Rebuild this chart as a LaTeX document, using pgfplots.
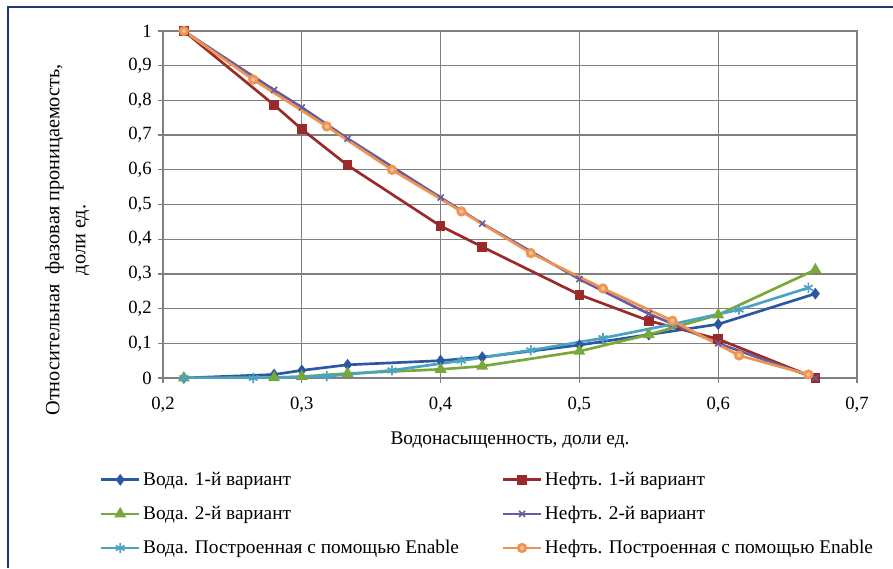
\documentclass[border=0pt]{standalone}
\usepackage{pgfplots}
\pgfplotsset{compat=1.18}
\usepackage{fontspec}
\setmainfont{Liberation Serif}
\definecolor{cB}{HTML}{2B58A0}
\definecolor{cR}{HTML}{9A2A2A}
\definecolor{cG}{HTML}{78A83A}
\definecolor{cP}{HTML}{6A5A9E}
\definecolor{cA}{HTML}{4AA3C2}
\definecolor{cO}{HTML}{EE9450}
\definecolor{frame}{HTML}{1F3A70}
\begin{document}
\begin{tikzpicture}
\useasboundingbox (0,0) rectangle (669.75pt,426pt);
\fill[white] (0,0) rectangle (669.75pt,426pt);
\draw[frame, line width=1.5pt] (6pt,0) -- (6pt,420.75pt) -- (669.75pt,420.75pt);
\begin{axis}[
  at={(122.25pt,142.5pt)}, anchor=south west,
  scale only axis, width=520.5pt, height=260.25pt,
  xmin=0.2, xmax=0.7, ymin=0, ymax=1,
  xtick={0.2,0.3,0.4,0.5,0.6,0.7},
  ytick={0,0.1,0.2,0.3,0.4,0.5,0.6,0.7,0.8,0.9,1},
  grid=major,
  grid style={color=black!50, line width=1pt},
  axis line style={color=black!50, line width=1pt},
  tick style={color=black!50, line width=1pt},
  tick align=outside, major tick length=4pt,
  xtick pos=bottom, ytick pos=left,
  /pgf/number format/.cd, use comma, assume math mode=true, /pgfplots/.cd,
  ticklabel style={font=\fontsize{14}{16}\selectfont},
  xticklabel style={yshift=-7pt},
  yticklabel style={xshift=-1pt},
  xlabel={Водонасыщенность, доли ед.},
  xlabel style={at={(0.5,-0.179)}, anchor=center, font=\fontsize{14.5}{16}\selectfont},
  ylabel={Относительная\ \ фазовая проницаемость,\\ доли ед.},
  ylabel style={at={(-0.138,0.398)}, anchor=center, align=center, font=\fontsize{15.2}{19.5}\selectfont},
  legend columns=2,
  legend cell align=left,
  legend style={at={(-0.097,-0.255)}, anchor=north west, draw=none, fill=none,
    font=\fontsize{14.5}{16}\selectfont, row sep=10pt,
    /tikz/every even column/.append style={column sep=30pt}},
  legend image code/.code={\draw[mark repeat=2,mark phase=2] plot coordinates {(0cm,0cm) (0.5cm,0cm) (1cm,0cm)};},
  every axis plot/.append style={line width=2pt},
]
\addplot[color=cB, mark=diamond*, mark size=2.8pt] coordinates {
(0.215,0) (0.28,0.01) (0.30,0.022) (0.333,0.038) (0.40,0.05) (0.43,0.06) (0.50,0.095) (0.55,0.125) (0.60,0.155) (0.67,0.243)};
\addlegendentry{Вода. 1-й вариант}
\addplot[color=cR, mark=square*, mark size=2.6pt] coordinates {
(0.215,1) (0.28,0.787) (0.30,0.717) (0.333,0.613) (0.40,0.438) (0.43,0.378) (0.50,0.24) (0.55,0.165) (0.60,0.112) (0.67,0.0)};
\addlegendentry{Нефть. 1-й вариант}
\addplot[color=cG, mark=triangle*, mark size=3.2pt] coordinates {
(0.215,0) (0.28,0.001) (0.30,0.004) (0.333,0.013) (0.40,0.025) (0.43,0.034) (0.50,0.077) (0.55,0.125) (0.60,0.182) (0.67,0.312)};
\addlegendentry{Вода. 2-й вариант}
\addplot[color=cP, mark=x, mark size=3.2pt, mark options={line width=1.2pt}] coordinates {
(0.215,1) (0.28,0.83) (0.30,0.78) (0.333,0.69) (0.40,0.52) (0.43,0.445) (0.50,0.285) (0.55,0.185) (0.60,0.10) (0.67,0.0)};
\addlegendentry{Нефть. 2-й вариант}
\addplot[color=cA, mark=asterisk, mark size=3.8pt, mark options={line width=1.2pt}] coordinates {
(0.215,0) (0.265,0.0) (0.318,0.005) (0.365,0.022) (0.415,0.05) (0.465,0.08) (0.517,0.115) (0.567,0.155) (0.615,0.197) (0.665,0.26)};
\addlegendentry{Вода. Построенная с помощью Enable}
\addplot[color=cO, mark=*, mark size=2.8pt, mark options={fill=cO!60}] coordinates {
(0.215,1) (0.265,0.86) (0.318,0.725) (0.365,0.60) (0.415,0.48) (0.465,0.36) (0.517,0.258) (0.567,0.165) (0.615,0.065) (0.665,0.01)};
\addlegendentry{Нефть. Построенная с помощью Enable}
\end{axis}
\end{tikzpicture}
\end{document}
